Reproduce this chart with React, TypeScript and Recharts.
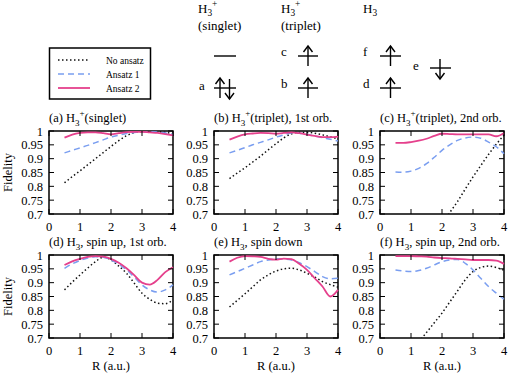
import React from 'react';
import { LineChart, Line, XAxis, YAxis, ReferenceArea } from 'recharts';

// R grid shared by every panel
const R = [0.5, 0.75, 1, 1.25, 1.5, 1.75, 2, 2.25, 2.5, 2.75, 3, 3.25, 3.5, 3.75, 4];
const X_TICKS = [0, 1, 2, 3, 4];
const Y_TICKS = [0.7, 0.75, 0.8, 0.85, 0.9, 0.95, 1];

// one row per panel, (a) .. (f)
const NO_ANSATZ = [
  [0.813, 0.835, 0.856, 0.878, 0.9, 0.922, 0.944, 0.965, 0.983, 0.994, 0.998, 0.999, 0.998, 0.995, 0.99],
  [0.828, 0.848, 0.867, 0.888, 0.909, 0.932, 0.954, 0.975, 0.99, 0.995, 0.995, 0.992, 0.986, 0.979, 0.972],
  [null, null, null, null, null, null, 0.66, 0.705, 0.745, 0.79, 0.834, 0.875, 0.915, 0.952, 0.985],
  [0.874, 0.902, 0.928, 0.953, 0.976, 0.992, 0.982, 0.96, 0.934, 0.898, 0.862, 0.84, 0.826, 0.824, 0.838],
  [0.812, 0.836, 0.86, 0.885, 0.91, 0.928, 0.942, 0.95, 0.952, 0.946, 0.934, 0.92, 0.904, 0.893, 0.884],
  [null, null, null, 0.685, 0.72, 0.755, 0.79, 0.83, 0.87, 0.91, 0.94, 0.955, 0.96, 0.955, 0.945],
];
const ANSATZ_1 = [
  [0.921, 0.93, 0.939, 0.948, 0.958, 0.968, 0.978, 0.985, 0.991, 0.995, 0.997, 0.997, 0.996, 0.993, 0.988],
  [0.921, 0.93, 0.94, 0.95, 0.959, 0.968, 0.978, 0.986, 0.993, 0.992, 0.988, 0.982, 0.976, 0.97, 0.964],
  [0.852, 0.851, 0.855, 0.865, 0.882, 0.905, 0.93, 0.95, 0.966, 0.975, 0.978, 0.974, 0.96, 0.943, 0.918],
  [0.952, 0.968, 0.98, 0.989, 0.994, 0.992, 0.982, 0.967, 0.946, 0.92, 0.892, 0.874, 0.866, 0.874, 0.892],
  [0.928, 0.94, 0.952, 0.964, 0.976, 0.982, 0.986, 0.985, 0.982, 0.972, 0.958, 0.94, 0.922, 0.914, 0.916],
  [0.946, 0.942, 0.94, 0.944, 0.952, 0.964, 0.976, 0.982, 0.984, 0.97, 0.946, 0.916, 0.886, 0.862, 0.84],
];
const ANSATZ_2 = [
  [0.976, 0.987, 0.993, 0.995, 0.995, 0.992, 0.988, 0.992, 0.996, 0.997, 0.997, 0.995, 0.993, 0.989, 0.984],
  [0.969, 0.98, 0.988, 0.991, 0.993, 0.992, 0.99, 0.993, 0.995, 0.992, 0.987, 0.982, 0.978, 0.978, 0.98],
  [0.957, 0.957, 0.96, 0.965, 0.972, 0.982, 0.99, 0.989, 0.988, 0.988, 0.988, 0.988, 0.988, 0.981, 0.993],
  [0.964, 0.977, 0.986, 0.993, 0.996, 0.994, 0.986, 0.972, 0.952, 0.927, 0.9, 0.893, 0.91, 0.938, 0.956],
  [0.976, 0.99, 0.996, 0.995, 0.993, 0.986, 0.983, 0.987, 0.985, 0.968, 0.946, 0.916, 0.886, 0.85, 0.874],
  [0.996, 0.996, 0.996, 0.995, 0.994, 0.991, 0.989, 0.988, 0.986, 0.984, 0.982, 0.982, 0.982, 0.98, 0.968],
];

// [prefix, subscript, superscript, rest]
const TITLES = [
  ['(a) H', '3', '+', '(singlet)'],
  ['(b) H', '3', '+', '(triplet), 1st orb.'],
  ['(c) H', '3', '+', '(triplet), 2nd orb.'],
  ['(d) H', '3', '', ', spin up, 1st orb.'],
  ['(e) H', '3', '', ', spin down'],
  ['(f) H', '3', '', ', spin up, 2nd orb.'],
];

const SERIES = [
  { key: 'none', name: 'No ansatz', color: '#111111', dash: '1.5 2.5', width: 1.5 },
  { key: 'a1', name: 'Ansatz 1', color: '#7a9ef0', dash: '6 4', width: 1.5 },
  { key: 'a2', name: 'Ansatz 2', color: '#e5408c', dash: undefined, width: 1.8 },
];

const FONT = "'Liberation Serif', 'Times New Roman', 'DejaVu Serif', serif";
const txt = { fontFamily: FONT };
const COL_X = [49, 214, 380];
const ROW_Y = [131, 255];
const PLOT_W = 124;
const PLOT_H = 83;
const Y_AXIS_W = 45;
const X_AXIS_H = 25;
const PAD = 5;

const YTick = (props: any) => {
  const { y, payload } = props;
  const left = Y_AXIS_W;
  const right = Y_AXIS_W + PLOT_W;
  return (
    <g>
      <line x1={left} x2={left + 5} y1={y} y2={y} stroke="#000" strokeWidth={1} />
      <line x1={right - 5} x2={right} y1={y} y2={y} stroke="#000" strokeWidth={1} />
      <text x={left - 6} y={y} dy={4.5} textAnchor="end" style={txt} fontSize={12.5} fill="#000">
        {payload.value}
      </text>
    </g>
  );
};

const XTick = (props: any) => {
  const { x, payload } = props;
  const bottom = PAD + PLOT_H;
  return (
    <g>
      <line x1={x} x2={x} y1={bottom} y2={bottom - 5} stroke="#000" strokeWidth={1} />
      <line x1={x} x2={x} y1={PAD} y2={PAD + 5} stroke="#000" strokeWidth={1} />
      <text x={x} y={bottom + 16.5} textAnchor="middle" style={txt} fontSize={12.5} fill="#000">
        {payload.value}
      </text>
    </g>
  );
};

const Panel = ({ idx }: { idx: number }) => {
  const rows = R.map((r, i) => ({
    R: r,
    none: NO_ANSATZ[idx][i],
    a1: ANSATZ_1[idx][i],
    a2: ANSATZ_2[idx][i],
  }));
  const left = COL_X[idx % 3] - Y_AXIS_W;
  const top = ROW_Y[Math.floor(idx / 3)] - PAD;
  return (
    <div style={{ position: 'absolute', left, top }}>
      <LineChart
        width={Y_AXIS_W + PLOT_W + PAD}
        height={PAD + PLOT_H + X_AXIS_H}
        data={rows}
        margin={{ top: PAD, right: PAD, left: 0, bottom: 0 }}
      >
        <XAxis
          dataKey="R"
          type="number"
          domain={[0, 4]}
          ticks={X_TICKS}
          interval={0}
          axisLine={false}
          tickLine={false}
          tickSize={0}
          height={X_AXIS_H}
          tick={(p: any) => <XTick {...p} />}
        />
        <YAxis
          type="number"
          domain={[0.7, 1]}
          ticks={Y_TICKS}
          interval={0}
          allowDataOverflow
          axisLine={false}
          tickLine={false}
          tickSize={0}
          width={Y_AXIS_W}
          tick={(p: any) => <YTick {...p} />}
        />
        {SERIES.map((s) => (
          <Line
            key={s.key}
            dataKey={s.key}
            name={s.name}
            type="monotone"
            stroke={s.color}
            strokeWidth={s.width}
            strokeDasharray={s.dash}
            dot={false}
            activeDot={false}
            isAnimationActive={false}
          />
        ))}
        <ReferenceArea x1={0} x2={4} y1={0.7} y2={1} fill="none" stroke="#000" strokeWidth={1.5} />
      </LineChart>
    </div>
  );
};

// H_3^+ style label inside an svg text
const Formula = ({ x, y, parts, size = 12.5, subDy = 4 }: any) => {
  const [pre, sub, sup, rest] = parts;
  const small = size * 0.72;
  return (
    <text x={x} y={y} style={txt} fontSize={size} fill="#000">
      {pre}
      <tspan dy={subDy} fontSize={small}>{sub}</tspan>
      {sup ? <tspan dy={-subDy - 6} fontSize={small}>{sup}</tspan> : null}
      {rest ? <tspan dy={sup ? 6 : -subDy}>{rest}</tspan> : null}
    </text>
  );
};

const Arrow = ({ x, y, down = false }: { x: number; y: number; down?: boolean }) => {
  // y is the level; arrow spans 10px each way
  const tip = down ? y + 10 : y - 10;
  const tail = down ? y - 10 : y + 10;
  const back = down ? tip - 6 : tip + 6;
  return (
    <g stroke="#000" strokeWidth={1.4} fill="none">
      <line x1={x} x2={x} y1={tail} y2={tip} />
      <polyline points={`${x - 4.5},${back} ${x},${tip} ${x + 4.5},${back}`} />
    </g>
  );
};

const Level = ({ x1, x2, y }: { x1: number; x2: number; y: number }) => (
  <line x1={x1} x2={x2} y1={y} y2={y} stroke="#000" strokeWidth={1.4} />
);

const Label = ({ x, y, children }: any) => (
  <text x={x} y={y} style={txt} fontSize={13} fill="#000">{children}</text>
);

const Decorations = () => (
  <svg width={517} height={374} style={{ position: 'absolute', left: 0, top: 0 }}>
    {/* legend */}
    <rect x={49.5} y={48} width={101} height={51} fill="#fff" stroke="#000" strokeWidth={1.5} />
    {SERIES.map((s, i) => (
      <g key={s.key}>
        <line x1={58} x2={90} y1={60 + i * 14} y2={60 + i * 14} stroke={s.color} strokeWidth={s.width} strokeDasharray={s.dash} />
        <text x={106} y={63.5 + i * 14} style={txt} fontSize={9.5} fill="#000">{s.name}</text>
      </g>
    ))}

    {/* orbital diagrams */}
    <Formula x={198} y={13} parts={['H', '3', '+', '']} size={13} subDy={3} />
    <Label x={198} y={30}>(singlet)</Label>
    <Formula x={281} y={13} parts={['H', '3', '+', '']} size={13} subDy={3} />
    <Label x={281} y={30}>(triplet)</Label>
    <Formula x={363} y={13} parts={['H', '3', '', '']} size={13} subDy={3} />

    <Level x1={214} x2={236} y={56} />
    <Label x={199} y={90}>a</Label>
    <Level x1={214} x2={236} y={88} />
    <Arrow x={220} y={88} />
    <Arrow x={229.5} y={89} down />

    <Label x={281} y={56}>c</Label>
    <Level x1={298} x2={318} y={56} />
    <Arrow x={308} y={56} />
    <Label x={281} y={88}>b</Label>
    <Level x1={298} x2={318} y={88} />
    <Arrow x={308} y={88} />

    <Label x={363} y={56}>f</Label>
    <Level x1={380} x2={401} y={56} />
    <Arrow x={390.5} y={56} />
    <Label x={363} y={88}>d</Label>
    <Level x1={380} x2={401} y={88} />
    <Arrow x={390.5} y={88} />
    <Label x={413} y={70}>e</Label>
    <Level x1={430} x2={451} y={68} />
    <Arrow x={440} y={69} down />

    {/* panel titles */}
    {TITLES.map((t, i) => (
      <Formula key={i} x={COL_X[i % 3]} y={122 + Math.floor(i / 3) * 124} parts={t} />
    ))}

    {/* axis titles */}
    {ROW_Y.map((y) => (
      <text
        key={y}
        x={0}
        y={0}
        transform={`translate(12, ${y + PLOT_H / 2}) rotate(-90)`}
        textAnchor="middle"
        style={txt}
        fontSize={12.5}
      >
        Fidelity
      </text>
    ))}
    {COL_X.map((x) => (
      <text key={x} x={x + PLOT_W / 2} y={370} textAnchor="middle" style={txt} fontSize={12.5}>
        R (a.u.)
      </text>
    ))}
  </svg>
);

export default function App() {
  return (
    <div style={{ position: 'absolute', left: 0, top: 0, width: 517, height: 374, background: '#fff', overflow: 'hidden', fontFamily: FONT }}>
      <Decorations />
      {[0, 1, 2, 3, 4, 5].map((i) => (
        <Panel key={i} idx={i} />
      ))}
    </div>
  );
}
